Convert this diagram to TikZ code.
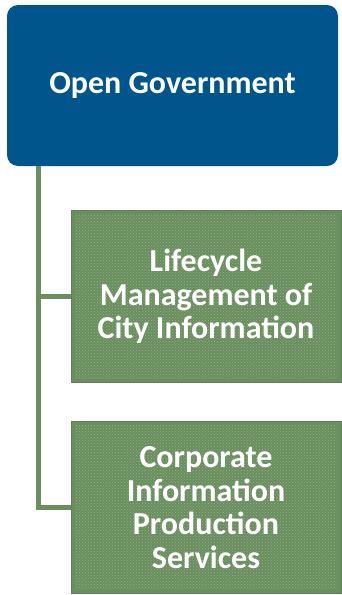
\documentclass[tikz,border=0pt]{standalone}
\usepackage{fontspec}
\setmainfont{Carlito}
\usetikzlibrary{positioning,patterns}
\definecolor{govblue}{HTML}{00558C}
\definecolor{leafgreen}{HTML}{6A8F5E}
\definecolor{leafdots}{HTML}{93B089}
\tikzset{
  rootbox/.style={rectangle,rounded corners=11pt,fill=govblue,text=white,
    font=\fontsize{32}{34}\selectfont\bfseries,minimum width=331pt,minimum height=161pt,inner sep=0pt},
  leafbox/.style={rectangle,fill=leafgreen,draw=leafgreen!90!black,line width=0.8pt,text=white,
    font=\fontsize{32}{33.5}\selectfont\bfseries,align=center,minimum width=270pt,minimum height=172pt,inner sep=0pt,
    path picture={\fill[pattern=crosshatch dots,pattern color=leafdots]
      ([shift={(4pt,4pt)}]path picture bounding box.south west) rectangle
      ([shift={(-4pt,-4pt)}]path picture bounding box.north east);}},
  link/.style={draw=leafgreen,line width=5pt}
}
\begin{document}
\begin{tikzpicture}[x=1pt,y=-1pt]
  \useasboundingbox (0,0) rectangle (341,595);
  \node[rootbox](root)at(172.5,85.5){Open Government};
  \node[leafbox](lifecycle)at(206,296.5){Lifecycle\\Management of\\City Information};
  \node[leafbox](corporate)at(206,507.5){Corporate\\Information\\Production\\Services};
  \coordinate(spine)at(38,166);
  \draw[link](spine)|-(lifecycle.west);
  \draw[link](spine)|-(corporate.west);
\end{tikzpicture}
\end{document}
